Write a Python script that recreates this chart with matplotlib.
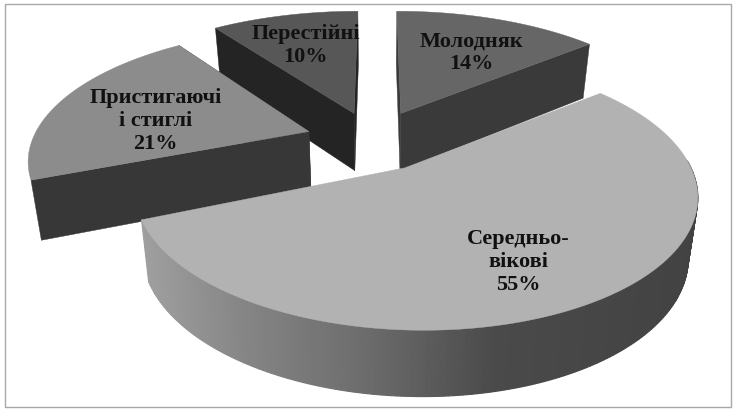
import numpy as np
import matplotlib
matplotlib.use('Agg')
import matplotlib.pyplot as plt
from matplotlib.patches import Polygon, Rectangle

labels = ['Молодняк\n14%', 'Середньо-\nвікові\n55%', 'Пристигаючі\nі стиглі\n21%', 'Перестійні\n10%']
values = [14, 55, 21, 10]
top_colors = ['#666666', '#b2b2b2', '#8c8c8c', '#575757']
cut_colors = ['#3a3a3a', '#3d3d3d', '#373737', '#242424']
shift_u = [0.085, 0.125, -0.237, -0.082]
shift_v = [0.14, -0.27, -0.004, 0.14]
tip_u = [0, -0.033, 0, 0]
radius = [1.0, 0.91, 0.95, 1.0]
label_pos = [(0.68, 0.62), (0.56, 0.66), (0.57, 0.32), (0.66, 0.67)]

# fake 3d projection, tuned by eye
cx, cy, rx, ry, persp, depth, converge = 377, 132, 287, 129, 0.2, 58, 0.03


def project(u, v, z=0):
    s = 1 / (1 + persp * v)
    x = cx + rx * u * s
    return x + (cx - x) * converge * z, cy - ry * v * s + depth * z * np.sqrt(s)


fig = plt.figure(figsize=(7.37, 4.10), dpi=100)
ax = fig.add_axes([0, 0, 1, 1])
ax.set_xlim(0, 737)
ax.set_ylim(410, 0)
ax.axis('off')
ax.add_patch(Rectangle((5, 4.5), 726, 403.5, fc='white', ec='#a8a8a8', lw=1.0))

edges = np.cumsum([0] + values) / 100 * 2 * np.pi

# back slices first, the big one goes on top of everything
for i in [3, 0, 2, 1]:
    t0, t1 = edges[i], edges[i + 1]
    ou, ov, r = shift_u[i], shift_v[i], radius[i]
    tt = np.linspace(t0, t1, 240)
    au, av = ou + r * np.sin(tt), ov + r * np.cos(tt)

    # flat cut walls
    if i != 1:
        for t in (t0, t1):
            eu, ev = ou + r * np.sin(t), ov + r * np.cos(t)
            wall = [project(ou, ov), project(eu, ev), project(eu, ev, 1), project(ou, ov, 1)]
            ax.add_patch(Polygon(wall, fc=cut_colors[i], ec=cut_colors[i], lw=0.3))

    # outer wall of the big slice, shaded strip by strip
    if i == 1:
        for k in range(len(tt) - 1):
            if np.cos((tt[k] + tt[k + 1]) / 2) > 0.05:
                continue
            quad = [project(au[k], av[k]), project(au[k + 1], av[k + 1]),
                    project(au[k + 1], av[k + 1], 1), project(au[k], av[k], 1)]
            f = np.clip((project(au[k], av[k])[0] - 135) / 560, 0, 1)
            g = np.interp(f, [0, 0.2, 0.42, 0.65, 1], [0.63, 0.52, 0.42, 0.29, 0.26])
            ax.add_patch(Polygon(quad, fc=str(g), ec=str(g), lw=0.8))

    top = [project(ou + tip_u[i], ov)] + [project(a, b) for a, b in zip(au, av)]
    ax.add_patch(Polygon(top, fc=top_colors[i], ec=top_colors[i], lw=0.3))

    mid = (t0 + t1) / 2
    lu, lv = ou + label_pos[i][0] * np.sin(mid), ov + label_pos[i][1] * np.cos(mid)
    ax.text(*project(lu, lv), labels[i], ha='center', va='center', fontsize=16,
            fontweight='bold', family='Liberation Serif', color='#111111', linespacing=1.2)

fig.savefig('out.png', dpi=100)
